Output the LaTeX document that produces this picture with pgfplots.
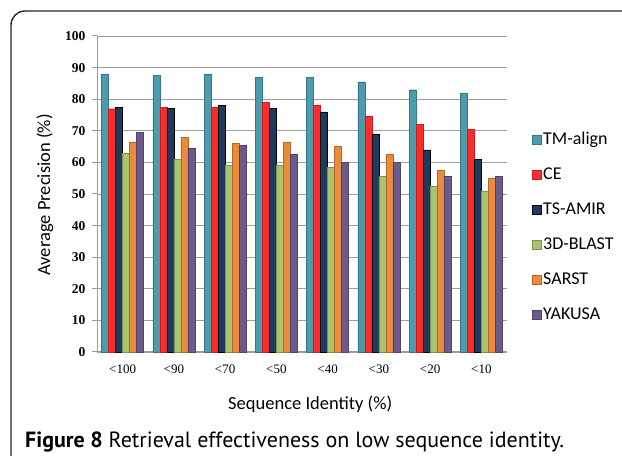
\documentclass[border=0pt]{standalone}
\usepackage{fontspec}
\setmainfont{Carlito}
\newfontfamily\tickfont{Liberation Serif}
\newfontfamily\capfont{PT Sans}
\usepackage{pgfplots}
\pgfplotsset{compat=1.18}
\definecolor{ctm}{HTML}{4D9CAE}
\definecolor{cce}{HTML}{FF2A2A}
\definecolor{cts}{HTML}{1F3A5C}
\definecolor{c3d}{HTML}{A9C46C}
\definecolor{csa}{HTML}{EA8C3C}
\definecolor{cya}{HTML}{6D5A8A}
\begin{document}
\begin{tikzpicture}
\useasboundingbox (0,0) rectangle (622bp,456bp);
\draw[line width=1.4bp, black!85, rounded corners=14bp] (11bp,-30bp) -- (11bp,445bp) -- (660bp,445bp);
\begin{axis}[
  at={(97bp,104bp)}, anchor=south west,
  scale only axis, width=410bp, height=316bp,
  xmin=-0.5, xmax=7.5, ymin=0, ymax=100,
  ybar=0pt, bar width=7bp,
  axis lines*=left,
  axis line style={gray!80, line width=1bp},
  xtick={0,...,7},
  xticklabels={<100,<90,<70,<50,<40,<30,<20,<10},
  minor xtick={-0.5,0.5,...,7.5},
  ytick={0,10,...,100},
  ymajorgrids, grid style={gray!75, line width=0.9bp},
  tick align=outside,
  major tick length=5bp, minor tick length=5bp,
  xtick style={draw=none},
  minor tick style={gray!80, line width=1bp},
  ytick style={gray!80, line width=1bp},
  /pgf/number format/assume math mode=true,
  yticklabel style={font=\fontsize{13.5bp}{15bp}\tickfont\bfseries, xshift=-3bp},
  xticklabel style={font=\fontsize{13bp}{15bp}\tickfont, yshift=-4bp},
  xlabel={Sequence Identity (\%)},
  ylabel={Average Precision (\%)},
  label style={font=\fontsize{18.5bp}{20bp}\selectfont},
  xlabel style={at={(rel axis cs:0.52,-0.165)}, anchor=center},
  ylabel style={at={(rel axis cs:-0.127,0.497)}, anchor=center, rotate=0},
  legend style={at={(rel axis cs:1.061,0.70)}, anchor=north west, draw=none, fill=none,
    font=\fontsize{18bp}{20bp}\selectfont, row sep=18.8bp, inner sep=0pt,
    nodes={inner sep=1.5pt}},
  legend cell align=left,
  legend image code/.code={\fill[#1] (0bp,-4.5bp) rectangle (9bp,4.5bp);},
  clip=false,
]
\addplot[fill=ctm, draw=ctm!75!black, line width=0.3bp] coordinates {(0,88) (1,87.5) (2,88) (3,87) (4,87) (5,85.5) (6,83) (7,82)};
\addplot[fill=cce, draw=cce!75!black, line width=0.3bp] coordinates {(0,77) (1,77.5) (2,77.5) (3,79) (4,78) (5,74.5) (6,72) (7,70.5)};
\addplot[fill=cts, draw=black, line width=0.5bp] coordinates {(0,77.5) (1,77) (2,78) (3,77) (4,76) (5,69) (6,64) (7,61)};
\addplot[fill=c3d, draw=c3d!75!black, line width=0.3bp] coordinates {(0,63) (1,61) (2,59) (3,59) (4,58.5) (5,55.5) (6,52.5) (7,51)};
\addplot[fill=csa, draw=csa!75!black, line width=0.3bp] coordinates {(0,66.5) (1,68) (2,66) (3,66.5) (4,65) (5,62.5) (6,57.5) (7,55)};
\addplot[fill=cya, draw=cya!75!black, line width=0.3bp] coordinates {(0,69.5) (1,64.5) (2,65.5) (3,62.5) (4,60) (5,60) (6,55.5) (7,55.5)};
\legend{TM-align,CE,TS-AMIR,3D-BLAST,SARST,YAKUSA}
\end{axis}
\node[anchor=base west, inner sep=0pt, font=\fontsize{22bp}{24bp}\capfont] at (25bp,9bp) {\textbf{Figure 8} Retrieval effectiveness on low sequence identity.};
\end{tikzpicture}
\end{document}
